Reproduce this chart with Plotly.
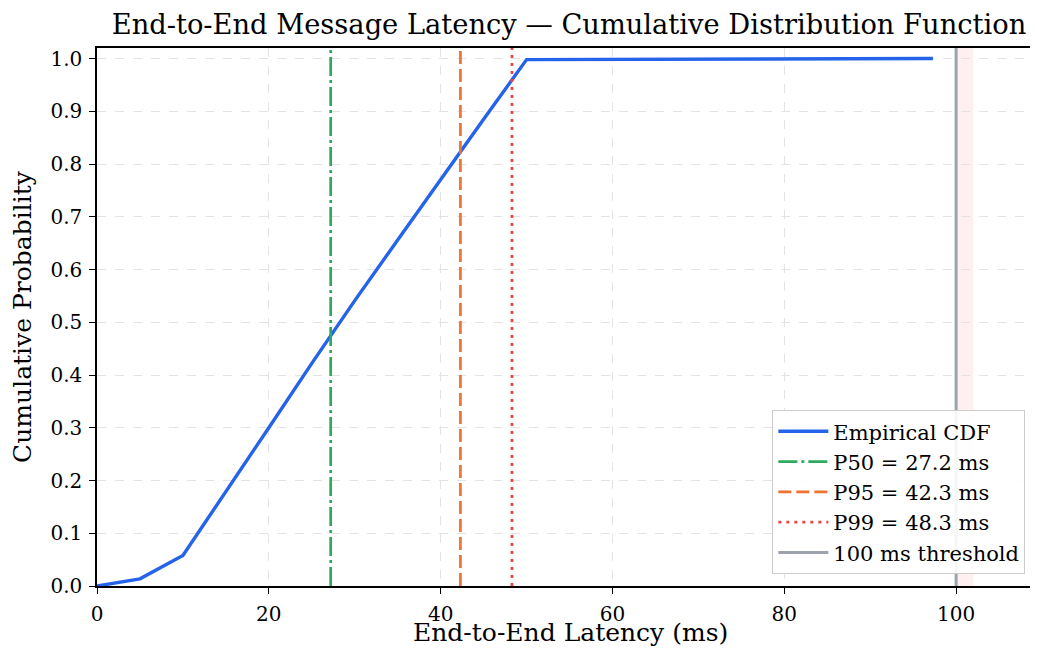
import plotly.graph_objects as go

latency_ms = [0, 5, 10, 15, 20, 25, 30, 35, 40, 45, 50, 97.3]
cdf_values = [0.0, 0.0136, 0.058, 0.178, 0.300, 0.422, 0.541, 0.656, 0.771, 0.885, 0.998, 1.0]

percentile_names = ["P50", "P95", "P99"]
percentile_values = [27.2, 42.3, 48.3]
percentile_colors = ["#2eaa5c", "#f07230", "#ef4444"]
percentile_dashes = ["19px,4px,3px,4px", "13px,5px", "3px,5px"]

threshold_ms = 100
shade_range = [100, 102]
x_ticks = [0, 20, 40, 60, 80, 100]
y_ticks = [0.0, 0.1, 0.2, 0.3, 0.4, 0.5, 0.6, 0.7, 0.8, 0.9, 1.0]

FONT = "DejaVu Serif"
# the page body adds an 8px margin on every side; keep the figure inside the 1038x656 window
W, H = 1022, 640
M_L, M_R, M_T, M_B = 89, 0, 40, 62
plot_h = H - M_T - M_B

fig = go.Figure()

fig.add_shape(type="rect", xref="x", yref="paper", x0=shade_range[0], x1=shade_range[1],
              y0=0, y1=1, fillcolor="rgba(239,68,68,0.08)", line_width=0, layer="below")

fig.add_trace(go.Scatter(x=latency_ms, y=cdf_values, mode="lines", name="Empirical CDF",
                         line=dict(color="#2563eb", width=3.4)))

for n, v, c, d in zip(percentile_names, percentile_values, percentile_colors, percentile_dashes):
    fig.add_trace(go.Scatter(x=[v, v], y=[0, 1.02], mode="lines", name=f"{n} = {v} ms",
                             line=dict(color=c, width=2.7, dash=d)))

fig.add_trace(go.Scatter(x=[threshold_ms, threshold_ms], y=[0, 1.02], mode="lines",
                         name="100 ms threshold", line=dict(color="#9ca3af", width=3)))

axis_common = dict(showline=True, linecolor="black", linewidth=1.5, mirror=True,
                   ticks="outside", ticklen=6, tickcolor="black", tickwidth=1.3,
                   showgrid=True, gridcolor="#e3e3e3", griddash="dash", gridwidth=1,
                   zeroline=False, automargin=False, ticklabelstandoff=3,
                   tickfont=dict(family=FONT, size=20, color="black"))

fig.update_xaxes(range=[0, 108.6], tickvals=x_ticks, **axis_common)
fig.update_yaxes(range=[0, 1.02], tickvals=y_ticks, ticktext=[f"{t:.1f}" for t in y_ticks],
                 title=dict(text="Cumulative Probability", font=dict(family=FONT, size=25, color="black"), standoff=12),
                 **axis_common)

fig.add_annotation(text="End-to-End Latency (ms)", xref="paper", yref="paper",
                   x=0.507, y=-46 / plot_h, xanchor="center", yanchor="middle", showarrow=False,
                   borderpad=0, font=dict(family=FONT, size=25, color="black"))

fig.update_layout(
    width=W, height=H,
    margin=dict(l=M_L, r=M_R, t=M_T, b=M_B),
    plot_bgcolor="white", paper_bgcolor="white",
    title=dict(text="End-to-End Message Latency — Cumulative Distribution Function",
               font=dict(family=FONT, size=27.3, color="black"),
               x=561 / W, xref="container", xanchor="center", y=1 - 16 / H, yref="container", yanchor="middle"),
    legend=dict(x=0.995, y=0.022, xanchor="right", yanchor="bottom",
                bgcolor="rgba(255,255,255,0.9)", bordercolor="#cccccc", borderwidth=1,
                font=dict(family=FONT, size=21, color="black"), itemwidth=50,
                tracegroupgap=0),
    showlegend=True,
)

fig.write_html("out.html")
